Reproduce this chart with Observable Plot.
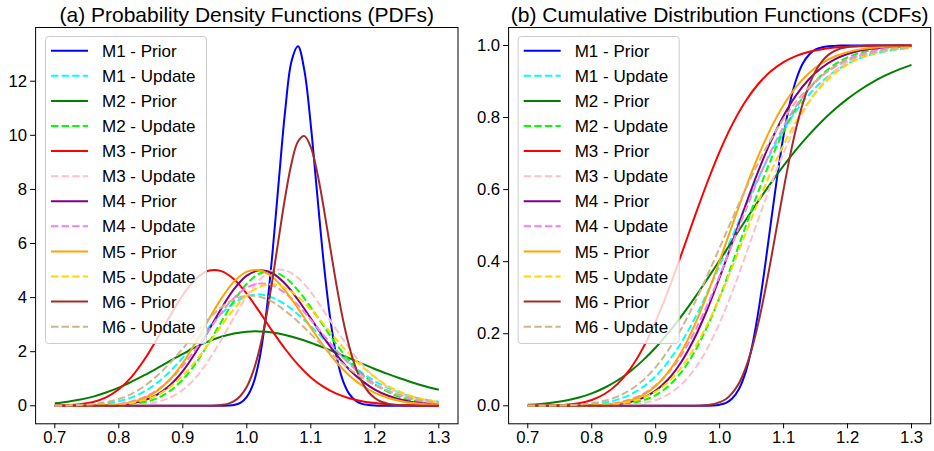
<!DOCTYPE html>
<html><head><meta charset="utf-8">
<script src="https://cdn.jsdelivr.net/npm/d3@7"></script>
<script src="https://cdn.jsdelivr.net/npm/@observablehq/plot@0.6"></script>
<style>
body{margin:0;background:#fff;}
#wrap{position:relative;width:934px;height:451px;font-family:"Liberation Sans",Arial,sans-serif;}
#wrap svg{position:absolute;top:0;}
</style></head><body><div id="wrap"></div>
<script>
// ---------- data ----------
const xs = [0.70,0.72,0.74,0.76,0.78,0.80,0.82,0.84,0.86,0.88,0.90,0.92,0.94,0.96,0.98,1.00,1.02,1.04,1.06,1.08,1.10,1.12,1.14,1.16,1.18,1.20,1.22,1.24,1.26,1.28,1.30];
const xsFine = [0.70,0.80,0.90,0.94,0.95,0.96,0.97,0.98,0.99,1.00,1.01,1.02,1.03,1.04,1.05,1.06,1.07,1.08,1.09,1.10,1.11,1.12,1.13,1.14,1.15,1.16,1.17,1.18,1.19,1.20,1.21,1.22,1.23,1.24,1.30];

const labels = ["M1 - Prior","M1 - Update","M2 - Prior","M2 - Update","M3 - Prior","M3 - Update","M4 - Prior","M4 - Update","M5 - Prior","M5 - Update","M6 - Prior","M6 - Update"];
const colors = ["blue","cyan","green","lime","red","pink","purple","violet","orange","gold","brown","tan"];
const dashed = [false,true,false,true,false,true,false,true,false,true,false,true];

const xTicks = [0.7,0.8,0.9,1.0,1.1,1.2,1.3];
const yTicksPdf = [0,2,4,6,8,10,12];
const yTicksCdf = [0.0,0.2,0.4,0.6,0.8,1.0];
const titles = ["(a) Probability Density Functions (PDFs)","(b) Cumulative Distribution Functions (CDFs)"];

// PDFs
const pdfM1Prior = [0,0,0,0,0,0,0.01,0.03,0.11,0.33,0.81,1.76,3.35,5.62,8.32,10.92,12.75,13.29,12.39,10.38,7.82,5.33,3.29,1.84,0.94,0.44,0.19,0.07,0.03,0.01,0,0,0,0,0];
const pdfM1Update = [0.00,0.01,0.01,0.04,0.08,0.17,0.31,0.53,0.85,1.27,1.78,2.34,2.89,3.40,3.80,4.04,4.11,4.00,3.75,3.38,2.94,2.47,2.01,1.59,1.22,0.91,0.67,0.47,0.33,0.22,0.15];
const pdfM2Prior = [0.09,0.15,0.23,0.34,0.49,0.67,0.89,1.13,1.39,1.66,1.92,2.17,2.38,2.55,2.67,2.74,2.75,2.71,2.62,2.49,2.33,2.15,1.96,1.76,1.56,1.36,1.18,1.01,0.85,0.71,0.59];
const pdfM2Update = [0,0,0,0.00,0.01,0.02,0.05,0.13,0.28,0.55,0.97,1.56,2.30,3.10,3.88,4.51,4.89,4.96,4.74,4.27,3.64,2.95,2.27,1.67,1.18,0.79,0.52,0.32,0.19,0.11,0.06];
const pdfM3Prior = [0.01,0.02,0.06,0.14,0.31,0.61,1.07,1.71,2.49,3.32,4.09,4.68,4.99,4.98,4.68,4.14,3.47,2.76,2.10,1.52,1.05,0.70,0.45,0.28,0.17,0.10,0.05,0.03,0.02,0.01,0.00];
const pdfM3Update = [0,0,0,0,0.00,0.01,0.02,0.06,0.14,0.31,0.59,1.04,1.67,2.43,3.27,4.05,4.66,5.00,5.01,4.73,4.20,3.52,2.81,2.13,1.53,1.06,0.70,0.44,0.27,0.16,0.09];
const pdfM4Prior = [0,0,0.00,0.00,0.01,0.03,0.09,0.20,0.41,0.76,1.28,1.97,2.77,3.59,4.31,4.81,5.01,4.90,4.51,3.92,3.23,2.53,1.89,1.34,0.92,0.60,0.38,0.23,0.13,0.08,0.04];
const pdfM4Update = [0,0.00,0.00,0.01,0.03,0.07,0.16,0.32,0.58,0.96,1.48,2.09,2.77,3.43,3.99,4.37,4.52,4.45,4.16,3.72,3.18,2.61,2.05,1.56,1.14,0.81,0.56,0.37,0.24,0.15,0.09];
const pdfM5Prior = [0,0.00,0.00,0.01,0.02,0.05,0.13,0.28,0.55,0.98,1.58,2.34,3.17,3.96,4.59,4.96,5.01,4.76,4.26,3.60,2.89,2.21,1.61,1.12,0.75,0.48,0.30,0.18,0.10,0.06,0.03];
const pdfM5Update = [0,0.00,0.00,0.01,0.02,0.04,0.10,0.21,0.39,0.69,1.11,1.65,2.28,2.95,3.58,4.09,4.40,4.49,4.36,4.03,3.56,3.02,2.45,1.92,1.45,1.06,0.74,0.51,0.34,0.22,0.14];
const pdfM6Prior = [0,0,0,0.00,0.01,0.03,0.07,0.17,0.36,0.70,1.27,2.11,3.25,4.65,6.21,7.72,8.98,9.77,9.97,9.56,8.63,7.34,5.90,4.48,3.22,2.20,1.42,0.88,0.51,0.29,0.15,0.08,0.04,0.02,0];
const pdfM6Update = [0.00,0.01,0.03,0.06,0.13,0.25,0.44,0.73,1.11,1.58,2.12,2.68,3.20,3.64,3.93,4.07,4.03,3.84,3.51,3.11,2.65,2.19,1.76,1.37,1.04,0.77,0.56,0.39,0.27,0.18,0.12];

// CDFs
const cdfM1Prior = [0,0,0,0,0,0,0.0001,0.0003,0.0009,0.003,0.008,0.021,0.046,0.090,0.159,0.256,0.375,0.507,0.636,0.751,0.842,0.907,0.950,0.975,0.989,0.995,0.998,0.999,1.000,1,1,1,1,1,1];
const cdfM1Update = [0.0000,0.0001,0.0003,0.0008,0.0019,0.0043,0.0089,0.0172,0.0309,0.0520,0.0824,0.1234,0.1757,0.2388,0.3110,0.3896,0.4713,0.5527,0.6304,0.7018,0.7651,0.8192,0.8641,0.9000,0.9281,0.9494,0.9651,0.9764,0.9843,0.9898,0.9935];
const cdfM2Prior = [0.0029,0.0052,0.0089,0.0146,0.0229,0.0345,0.0501,0.0702,0.0954,0.1260,0.1618,0.2028,0.2483,0.2976,0.3499,0.4040,0.4589,0.5136,0.5669,0.6181,0.6664,0.7114,0.7525,0.7897,0.8228,0.8519,0.8773,0.8991,0.9176,0.9332,0.9463];
const cdfM2Update = [0,0,0,0.0000,0.0001,0.0003,0.0010,0.0028,0.0067,0.0149,0.0298,0.0549,0.0933,0.1473,0.2173,0.3015,0.3959,0.4949,0.5924,0.6828,0.7621,0.8280,0.8800,0.9192,0.9475,0.9670,0.9799,0.9882,0.9932,0.9962,0.9980];
const cdfM3Prior = [0.0001,0.0003,0.0011,0.0029,0.0073,0.0162,0.0327,0.0602,0.1020,0.1600,0.2343,0.3225,0.4197,0.5200,0.6170,0.7055,0.7817,0.8440,0.8925,0.9284,0.9540,0.9713,0.9827,0.9899,0.9943,0.9968,0.9983,0.9991,0.9995,0.9998,0.9999];
const cdfM3Update = [0,0,0,0,0.0000,0.0001,0.0004,0.0011,0.0030,0.0073,0.0160,0.0321,0.0590,0.0998,0.1567,0.2301,0.3175,0.4146,0.5153,0.6131,0.7027,0.7801,0.8434,0.8925,0.9290,0.9547,0.9721,0.9834,0.9904,0.9947,0.9971];
const cdfM4Prior = [0,0,0.0000,0.0000,0.0002,0.0006,0.0017,0.0044,0.0103,0.0218,0.0420,0.0743,0.1215,0.1852,0.2645,0.3561,0.4548,0.5545,0.6491,0.7337,0.8053,0.8629,0.9069,0.9390,0.9614,0.9763,0.9860,0.9919,0.9955,0.9976,0.9987];
const cdfM4Update = [0,0.0000,0.0001,0.0002,0.0006,0.0016,0.0038,0.0085,0.0173,0.0325,0.0567,0.0922,0.1408,0.2029,0.2773,0.3611,0.4504,0.5405,0.6269,0.7059,0.7750,0.8328,0.8794,0.9153,0.9422,0.9616,0.9751,0.9843,0.9903,0.9942,0.9966];
const cdfM5Prior = [0,0.0000,0.0000,0.0001,0.0003,0.0009,0.0026,0.0065,0.0146,0.0296,0.0550,0.0940,0.1490,0.2204,0.3063,0.4023,0.5026,0.6008,0.6913,0.7701,0.8351,0.8860,0.9240,0.9511,0.9696,0.9817,0.9893,0.9940,0.9967,0.9982,0.9991];
const cdfM5Update = [0,0.0000,0.0000,0.0001,0.0003,0.0008,0.0022,0.0051,0.0109,0.0216,0.0393,0.0667,0.1059,0.1583,0.2238,0.3007,0.3860,0.4753,0.5642,0.6484,0.7245,0.7904,0.8451,0.8887,0.9222,0.9471,0.9650,0.9774,0.9857,0.9912,0.9947];
const cdfM6Prior = [0,0,0,0.0000,0.0001,0.0003,0.0008,0.002,0.004,0.010,0.019,0.036,0.062,0.102,0.156,0.226,0.310,0.404,0.503,0.601,0.693,0.773,0.839,0.891,0.929,0.956,0.974,0.985,0.992,0.996,0.998,0.999,1.000,1.000,1];
const cdfM6Update = [0.0001,0.0002,0.0006,0.0014,0.0033,0.0070,0.0138,0.0254,0.0436,0.0704,0.1073,0.1552,0.2141,0.2826,0.3586,0.4389,0.5202,0.5991,0.6728,0.7391,0.7967,0.8451,0.8846,0.9159,0.9399,0.9580,0.9712,0.9806,0.9872,0.9917,0.9947];

const pdfs = [pdfM1Prior,pdfM1Update,pdfM2Prior,pdfM2Update,pdfM3Prior,pdfM3Update,pdfM4Prior,pdfM4Update,pdfM5Prior,pdfM5Update,pdfM6Prior,pdfM6Update];
const cdfs = [cdfM1Prior,cdfM1Update,cdfM2Prior,cdfM2Update,cdfM3Prior,cdfM3Update,cdfM4Prior,cdfM4Update,cdfM5Prior,cdfM5Update,cdfM6Prior,cdfM6Update];

// ---------- build ----------
function rows(vals) {
  const xArr = vals.length === xsFine.length ? xsFine : xs;
  return vals.map((v, j) => ({x: xArr[j], y: v}));
}
function lineMarks(sets) {
  return sets.map((vals, i) => Plot.line(rows(vals), {
    x: "x", y: "y", stroke: colors[i], strokeWidth: 2,
    strokeDasharray: dashed[i] ? "7.4,3.2" : null,
    strokeLinecap: "butt", curve: "catmull-rom"
  }));
}
const font = "'Liberation Sans', Arial, sans-serif";
function panel(isPdf) {
  return Plot.plot({
    width: 467, height: 451,
    marginLeft: isPdf ? 35.1 : 41.1,
    marginRight: isPdf ? 9.5 : 3.8,
    marginTop: 27, marginBottom: 27.7,
    style: {fontFamily: font, fontSize: "16.7px", color: "black", background: "transparent", overflow: "visible"},
    x: {domain: [0.67, 1.33]},
    y: {domain: isPdf ? [-0.666, 13.986] : [-0.05, 1.05]},
    marks: [
      ...lineMarks(isPdf ? pdfs : cdfs),
      Plot.frame({stroke: "black", strokeWidth: 1}),
      Plot.axisX({ticks: xTicks, tickFormat: d3.format(".1f"), tickSize: 5, tickPadding: 2.5, label: null, fontSize: 16.7}),
      Plot.axisY({ticks: isPdf ? yTicksPdf : yTicksCdf, tickFormat: isPdf ? d3.format("d") : d3.format(".1f"), tickSize: 5, tickPadding: 3.5, label: null, fontSize: 16.7}),
      Plot.text([titles[isPdf ? 0 : 1]], {frameAnchor: "top", dy: -6, lineAnchor: "bottom", fontSize: 21, text: d => d, fill: "black"})
    ]
  });
}
const wrap = document.getElementById("wrap");
const p1 = panel(true); p1.style.left = "0px"; wrap.appendChild(p1);
const p2 = panel(false); p2.style.left = "467px"; wrap.appendChild(p2);

// legends (overlay)
const leg = d3.create("svg").attr("width", 934).attr("height", 451).style("left", "0px").style("top", "0px");
for (const x0 of [45, 517.7]) {
  const g = leg.append("g");
  g.append("rect").attr("x", x0 + 0.5).attr("y", 36.5).attr("width", 161).attr("height", 307)
    .attr("rx", 3).attr("fill", "white").attr("fill-opacity", 0.8).attr("stroke", "#cccccc").attr("stroke-width", 1);
  labels.forEach((lab, i) => {
    const yy = 50.7 + i * 25.09;
    g.append("line").attr("x1", x0 + 6).attr("x2", x0 + 43).attr("y1", yy).attr("y2", yy)
      .attr("stroke", colors[i]).attr("stroke-width", 2)
      .attr("stroke-dasharray", dashed[i] ? "7.4,3.2" : null);
    g.append("text").attr("x", x0 + 57).attr("y", yy + 6.1).attr("font-size", "17px")
      .attr("font-family", font).attr("fill", "black").text(lab);
  });
}
wrap.appendChild(leg.node());
</script>
</body></html>
